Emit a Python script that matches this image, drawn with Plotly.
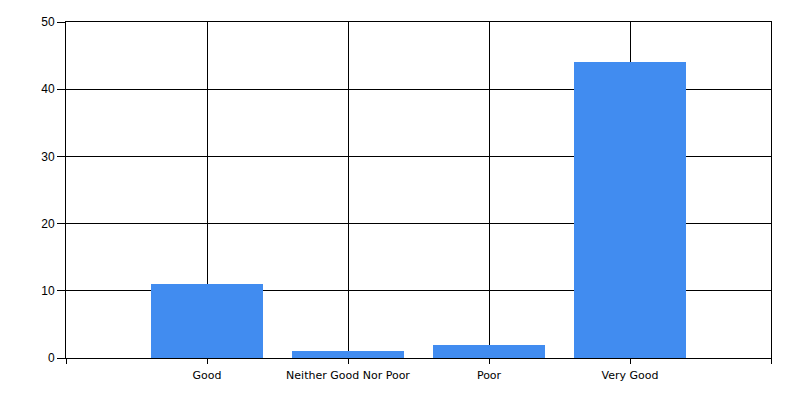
import plotly.graph_objects as go

categories = ["Good", "Neither Good Nor Poor", "Poor", "Very Good"]
values = [11, 1, 2, 44]
y_ticks = [0, 10, 20, 30, 40, 50]

positions = list(range(1, len(categories) + 1))

fig = go.Figure(go.Bar(
    x=positions, y=values, width=0.8,
    marker=dict(color="#418CF0", line=dict(width=0)),
))

fig.update_layout(
    width=800, height=400,
    margin=dict(l=66, r=29, t=22, b=42),
    paper_bgcolor="white", plot_bgcolor="white",
    font=dict(family="DejaVu Sans, Liberation Sans, sans-serif", size=11, color="black"),
    showlegend=False,
    bargap=0,
)
fig.update_xaxes(
    range=[0, len(categories) + 1],
    tickvals=[0] + positions + [len(categories) + 1],
    ticktext=[""] + categories + [""],
    showgrid=True, gridcolor="black", gridwidth=1,
    showline=True, linecolor="black", linewidth=1, mirror=True,
    ticks="outside", ticklen=5, tickcolor="black",
    ticklabelstandoff=2,
    zeroline=False, fixedrange=True,
)
fig.update_yaxes(
    range=[0, 50],
    tickvals=y_ticks,
    tickfont=dict(size=12, family="Liberation Sans, DejaVu Sans, sans-serif"),
    showgrid=True, gridcolor="black", gridwidth=1,
    showline=True, linecolor="black", linewidth=1, mirror=True,
    ticks="outside", ticklen=8, tickcolor="black",
    zeroline=False, fixedrange=True,
)

fig.write_html(
    "out.html",
    config={"displayModeBar": False, "staticPlot": True},
    post_script="document.body.style.margin='0';document.body.style.overflow='hidden';",
)
